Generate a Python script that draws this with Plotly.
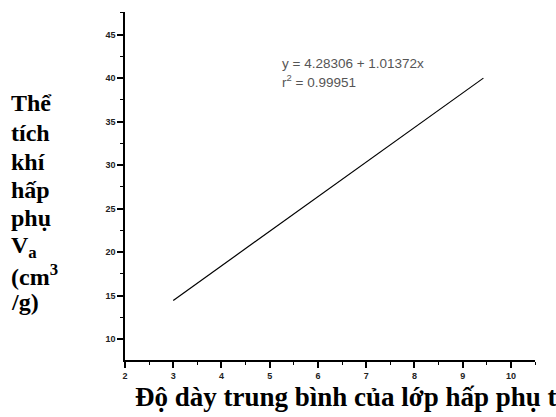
import plotly.graph_objects as go

# Data
x_vals = [3.0, 9.43]
y_vals = [14.45, 40.0]

x_ticks = [2, 3, 4, 5, 6, 7, 8, 9, 10]
y_ticks = [10, 15, 20, 25, 30, 35, 40, 45]

eq_text = "y = 4.28306 + 1.01372x"
r2_text = "r<sup>2</sup> = 0.99951"
y_title_lines = ["Thể", "tích", "khí", "hấp", "phụ", "V<sub>a</sub>", "(cm<sup>3</sup>", "/g)"]
x_title = "Độ dày trung bình của lớp hấp phụ t"

W, H = 556, 417
L, R, T, B = 125, 21, 12, 57
pw, ph = W - L - R, H - T - B

def px(xp):
    return (xp - L) / pw

def py(yp):
    return (H - B - yp) / ph

fig = go.Figure()
fig.add_trace(go.Scatter(x=x_vals, y=y_vals, mode="lines",
                         line=dict(color="black", width=1.2), showlegend=False,
                         hoverinfo="skip"))

tickfont = dict(family="Liberation Sans, Arial", size=9, color="#222", weight="bold")

fig.update_xaxes(range=[2, 10.5], tickvals=x_ticks, ticktext=[str(v) for v in x_ticks],
                 showgrid=False, zeroline=False, showline=True, linecolor="black", linewidth=1.6,
                 ticks="outside", ticklen=6, tickwidth=1.5, tickcolor="black",
                 minor=dict(ticks="outside", ticklen=3, tickwidth=1.2, tickcolor="black", dtick=0.5, tick0=2),
                 tickfont=tickfont)
fig.update_yaxes(range=[7.6, 47.6], tickvals=y_ticks, ticktext=[str(v) for v in y_ticks],
                 showgrid=False, zeroline=False, showline=True, linecolor="black", linewidth=1.6,
                 ticks="outside", ticklen=6, tickwidth=1.5, tickcolor="black",
                 minor=dict(ticks="outside", ticklen=3, tickwidth=1.2, tickcolor="black", dtick=2.5, tick0=10),
                 tickfont=tickfont)

annos = []
annos.append(dict(x=px(280), y=py(63), xref="paper", yref="paper", text=eq_text,
                  showarrow=False, xanchor="left", yanchor="middle",
                  font=dict(family="Liberation Sans, Arial", size=13.5, color="#555")))
annos.append(dict(x=px(280), y=py(81), xref="paper", yref="paper", text=r2_text,
                  showarrow=False, xanchor="left", yanchor="middle",
                  font=dict(family="Liberation Sans, Arial", size=13.5, color="#555")))

y_centers = [103, 133, 162, 190, 218, 247, 275, 302]
for t, yc in zip(y_title_lines, y_centers):
    annos.append(dict(x=px(9), y=py(yc), xref="paper", yref="paper", text="<b>" + t + "</b>",
                      showarrow=False, xanchor="left", yanchor="middle",
                      font=dict(family="Liberation Serif, Times New Roman", size=24, color="black")))

annos.append(dict(x=px(133), y=py(397), xref="paper", yref="paper", text="<b>" + x_title + "</b>",
                  showarrow=False, xanchor="left", yanchor="middle",
                  font=dict(family="Liberation Serif, Times New Roman", size=27, color="black")))

fig.update_layout(width=W, height=H, margin=dict(l=L, r=R, t=T, b=B),
                  paper_bgcolor="white", plot_bgcolor="white", annotations=annos)

fig.write_html("out.html")
